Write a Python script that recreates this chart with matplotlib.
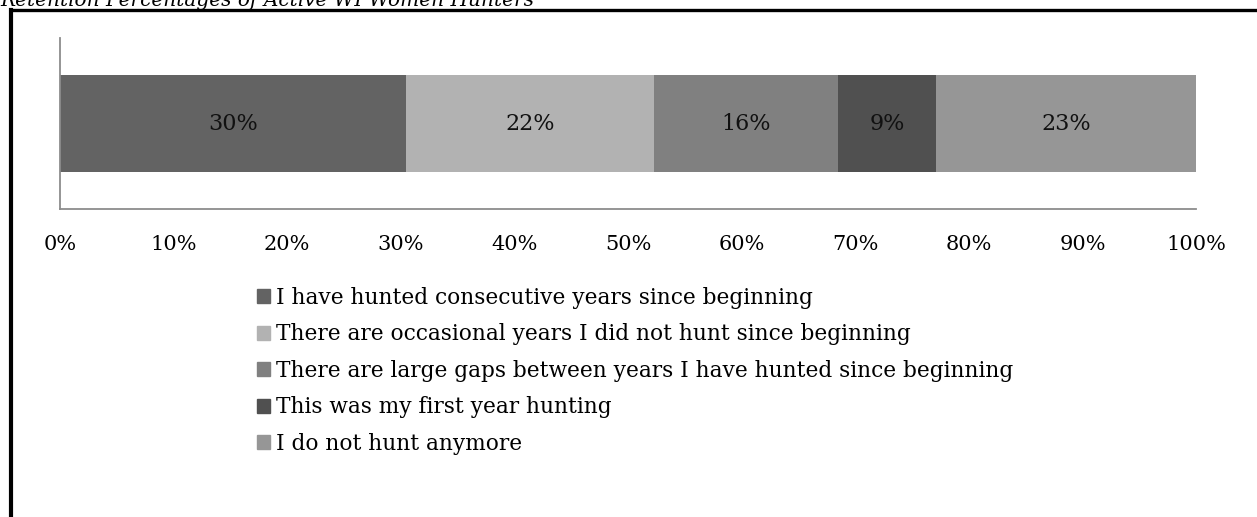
import matplotlib
matplotlib.use('Agg')
import matplotlib.pyplot as plt
import matplotlib.patches as mpatches
from matplotlib.lines import Line2D

plt.rcParams['font.family'] = ['DejaVu Serif']

CATEGORIES = [
    'I have hunted consecutive years since beginning',
    'There are occasional years I did not hunt since beginning',
    'There are large gaps between years I have hunted since beginning',
    'This was my first year hunting',
    'I do not hunt anymore',
]
SHARES = [30.5, 21.8, 16.2, 8.6, 22.9]   # percent of respondents
COLORS = ['#636363', '#b2b2b2', '#808080', '#505050', '#969696']
XTICKS = [0, 10, 20, 30, 40, 50, 60, 70, 80, 90, 100]

W, H = 1257, 517
fig = plt.figure(figsize=(W / 100, H / 100), dpi=100)
ax = fig.add_axes([60 / W, 1 - 209 / H, 1136 / W, 171 / H])

left = 0
for share, color in zip(SHARES, COLORS):
    ax.barh(0, share, left=left, height=0.57, color=color, edgecolor='none')
    ax.text(left + share / 2, 0, f'{share:.0f}%', ha='center', va='center',
            fontsize=16, color='#111111')
    left += share

ax.set_xlim(0, 100)
ax.set_ylim(-0.5, 0.5)
ax.set_xticks(XTICKS)
ax.set_xticklabels([f'{t}%' for t in XTICKS], fontsize=15)
ax.set_yticks([])
ax.tick_params(axis='x', length=0, pad=19)
for side in ('top', 'right'):
    ax.spines[side].set_visible(False)
for side in ('left', 'bottom'):
    ax.spines[side].set_color('#8c8c8c')
    ax.spines[side].set_linewidth(1.3)

handles = [mpatches.Patch(color=c, label=l) for c, l in zip(COLORS, CATEGORIES)]
fig.legend(handles=handles, loc='upper left', bbox_to_anchor=(246 / W, 1 - 276 / H),
           frameon=False, fontsize=15.6, handlelength=0.62, handleheight=0.62,
           handletextpad=0.28, labelspacing=0.67, borderpad=0)

# page frame around the figure block
fig.add_artist(Line2D([11 / W, 11 / W], [0, 1 - 9.5 / H], color='black', lw=3,
                      solid_capstyle='projecting'))
fig.add_artist(Line2D([11 / W, 1], [1 - 9.5 / H, 1 - 9.5 / H], color='black', lw=2.4,
                      solid_capstyle='projecting'))

fig.text(0, 1 - 6 / H, 'Retention Percentages of Active WI Women Hunters',
         ha='left', va='baseline', fontsize=14.5, style='italic')

fig.savefig('out.png', dpi=100, facecolor='white')
